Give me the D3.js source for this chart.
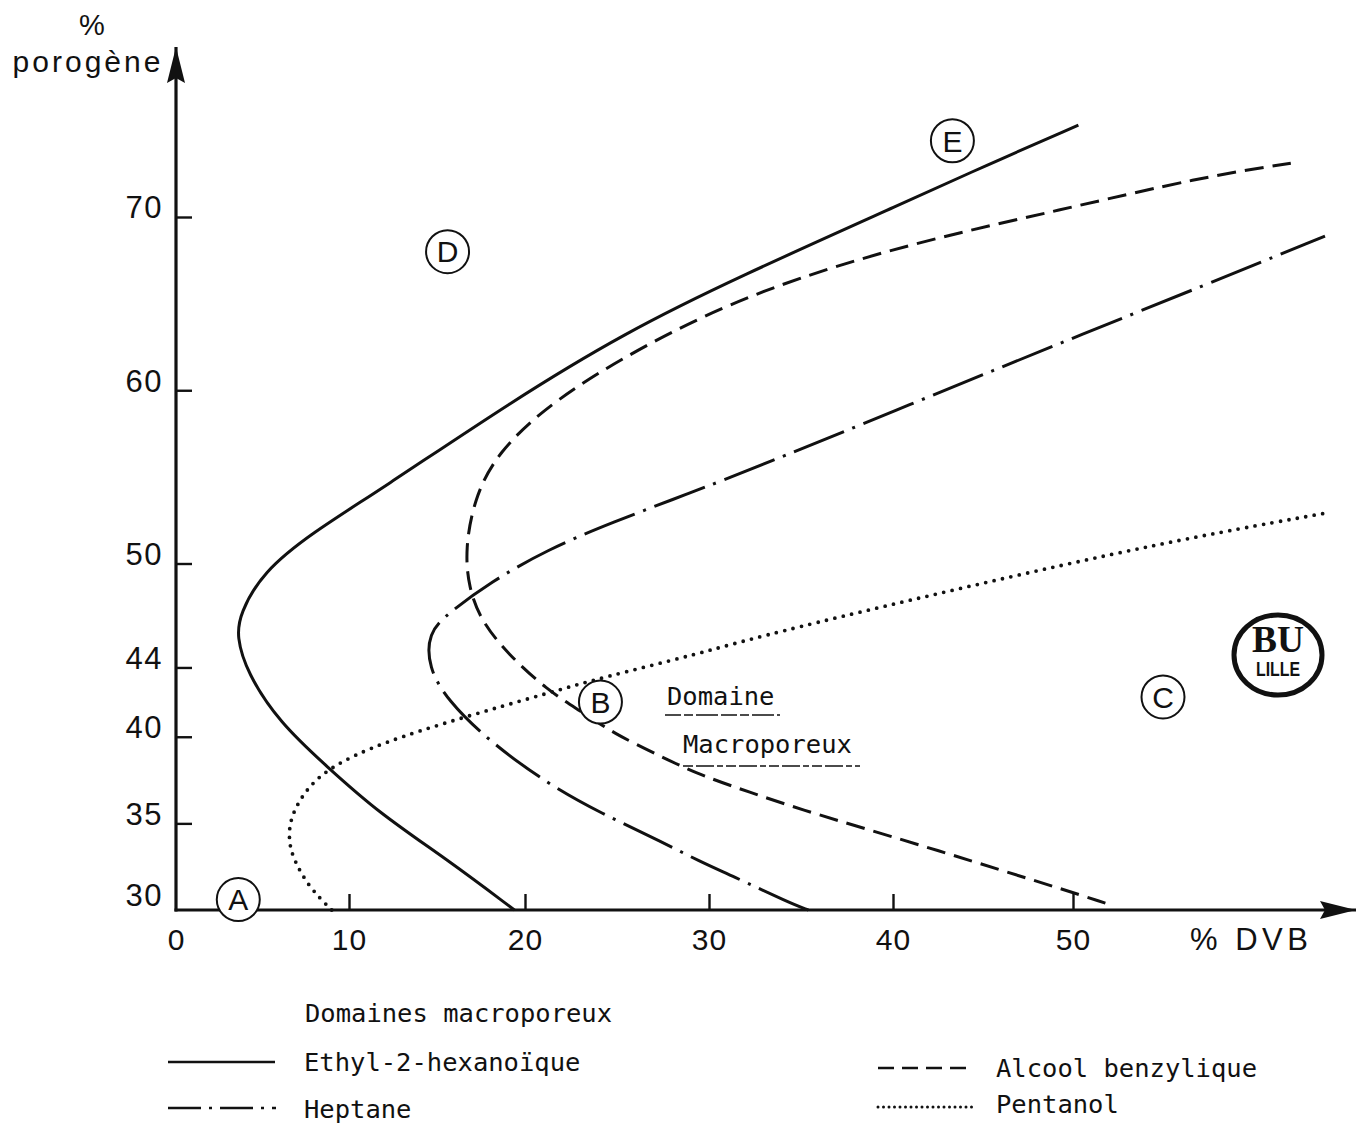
<!DOCTYPE html>
<html>
<head>
<meta charset="utf-8">
<script src="https://cdn.jsdelivr.net/npm/d3@7"></script>
<style>
  html, body { margin: 0; padding: 0; background: #fff; }
  svg { display: block; }
</style>
</head>
<body>
<svg id="chart" width="1364" height="1127"></svg>
<script>
// Axis ticks
const xTicks = [0, 10, 20, 30, 40, 50];
const yTicks = [30, 35, 40, 44, 50, 60, 70];

// Limits of the macroporous domains (% DVB, % porogène)
const ethylX = [19.4, 15.6, 11.7, 8.7, 6.0, 4.1, 3.5, 3.7, 5.0, 7.9, 11.7, 19.3, 25.4, 31.5, 41.0, 45.0, 50.3];
const ethylY = [30.0, 32.9, 35.6, 38.3, 40.8, 43.7, 45.8, 47.1, 49.5, 51.8, 54.2, 59.4, 63.3, 66.5, 71.0, 72.9, 75.3];

const heptaneX = [35.4, 34.4, 31.2, 29.5, 27.5, 24.1, 21.2, 17.9, 15.6, 14.5, 14.5, 15.6, 18.0, 21.2, 24.8, 28.8, 32.7, 41.0, 49.0, 57.4, 64.0];
const heptaneY = [30.0, 30.4, 32.0, 32.8, 33.9, 35.6, 37.3, 39.8, 42.1, 44.0, 46.0, 47.1, 48.9, 50.8, 52.4, 54.0, 55.6, 59.2, 62.6, 66.1, 68.9];

const alcoolX = [51.8, 49.1, 46.0, 42.6, 38.8, 35.0, 32.2, 29.5, 27.5, 24.8, 23.0, 21.2, 19.0, 17.5, 16.8, 16.6, 17.1, 18.4, 21.5, 26.6, 32.7, 41.0, 49.3, 57.1, 62.1];
const alcoolY = [30.4, 31.3, 32.3, 33.4, 34.6, 35.8, 36.8, 37.8, 38.8, 40.2, 41.5, 42.7, 44.8, 46.7, 48.6, 50.8, 53.7, 56.4, 59.4, 62.7, 65.8, 68.5, 70.4, 72.3, 73.1];

const pentanolX = [9.0, 7.7, 6.8, 6.5, 6.6, 7.6, 9.0, 11.7, 16.4, 21.2, 24.1, 29.5, 32.7, 43.8, 54.9, 64.0];
const pentanolY = [30.0, 31.3, 32.9, 34.0, 35.4, 37.1, 38.3, 39.6, 41.1, 42.5, 43.4, 44.8, 45.8, 48.6, 51.2, 52.9];

// Circled domain letters
const regionNames = ["A", "B", "C", "D", "E"];
const regionX = [3.6, 24.1, 55.0, 15.6, 43.3];
const regionY = [30.6, 42.0, 42.3, 68.0, 74.4];

const seriesNames = ["Ethyl-2-hexanoïque", "Heptane", "Alcool benzylique", "Pentanol"];

// ---------------------------------------------------------------------------
const svg = d3.select("#chart");
const INK = "#111";
const SANS = "'Liberation Sans', Arial, Helvetica, sans-serif";
const MONO = "'DejaVu Sans Mono', 'Liberation Mono', monospace";

// The hand-drawn DVB axis is not perfectly even: tick spacing follows the drawing
const xRange = [176, 349, 525, 709, 893, 1073];
const x = d3.scaleLinear().domain(xTicks).range(xRange);
const y = d3.scaleLinear().domain([30, 70]).range([910, 217]);

const defs = svg.append("defs");
defs.append("marker")
  .attr("id", "arrow")
  .attr("viewBox", "0 0 36 18")
  .attr("refX", 36).attr("refY", 9)
  .attr("markerWidth", 36).attr("markerHeight", 18)
  .attr("markerUnits", "userSpaceOnUse")
  .attr("orient", "auto")
  .append("path").attr("d", "M0,0 L36,9 L0,18 L5,9 Z").attr("fill", INK);

// Axis lines with arrowheads
svg.append("line")
  .attr("x1", x(0)).attr("y1", y(30) + 1.5)
  .attr("x2", x(0)).attr("y2", 47)
  .attr("stroke", INK).attr("stroke-width", 3.2)
  .attr("marker-end", "url(#arrow)");
svg.append("line")
  .attr("x1", x(0) - 1.5).attr("y1", y(30))
  .attr("x2", 1356).attr("y2", y(30))
  .attr("stroke", INK).attr("stroke-width", 3.2)
  .attr("marker-end", "url(#arrow)");

// Bottom axis: inward ticks, labels below
const gx = svg.append("g")
  .attr("transform", `translate(0,${y(30)})`)
  .call(d3.axisBottom(x).tickValues(xTicks).tickSize(-16).tickSizeOuter(0).tickPadding(19).tickFormat(d3.format("d")));
gx.select(".domain").remove();
gx.selectAll(".tick line").attr("stroke", INK).attr("stroke-width", 2.4)
  .filter(d => d === 0).remove();
gx.selectAll(".tick text")
  .attr("fill", INK).attr("font-family", SANS).attr("font-size", 30)
  .attr("letter-spacing", 1);

// Left axis: inward ticks, labels to the left, raised above the tick
const gy = svg.append("g")
  .attr("transform", `translate(${x(0)},0)`)
  .call(d3.axisLeft(y).tickValues(yTicks).tickSize(-16).tickSizeOuter(0).tickPadding(13).tickFormat(d3.format("d")));
gy.select(".domain").remove();
gy.selectAll(".tick line").attr("stroke", INK).attr("stroke-width", 2.4)
  .filter(d => d === 30).remove();
gy.selectAll(".tick text")
  .attr("fill", INK).attr("font-family", SANS).attr("font-size", 31)
  .attr("letter-spacing", 1.5)
  .attr("y", d => d === 30 ? -14 : -9);

// Axis titles
svg.append("text").attr("x", 92).attr("y", 35).attr("text-anchor", "middle")
  .attr("font-family", SANS).attr("font-size", 29).attr("fill", INK).text("%");
svg.append("text").attr("x", 88).attr("y", 72).attr("text-anchor", "middle")
  .attr("font-family", SANS).attr("font-size", 30).attr("letter-spacing", 3).attr("fill", INK).text("porogène");
svg.append("text").attr("x", 1190).attr("y", 950)
  .attr("font-family", SANS).attr("font-size", 31).attr("letter-spacing", 4.5).attr("fill", INK).text("% DVB");

// Curves
const series = [
  { name: seriesNames[0], xs: ethylX,    ys: ethylY,    dash: null,        width: 3,   cap: "butt" },
  { name: seriesNames[1], xs: heptaneX,  ys: heptaneY,  dash: "54 9 3 9",  width: 3,   cap: "butt" },
  { name: seriesNames[2], xs: alcoolX,   ys: alcoolY,   dash: "19 9",      width: 3,   cap: "butt" },
  { name: seriesNames[3], xs: pentanolX, ys: pentanolY, dash: "0 8.6",     width: 3.8, cap: "round" }
];

const line = d3.line()
  .x(d => x(d[0]))
  .y(d => y(d[1]))
  .curve(d3.curveBasis);

svg.append("g").selectAll("path")
  .data(series)
  .join("path")
  .attr("d", s => line(s.xs.map((v, i) => [v, s.ys[i]])))
  .attr("fill", "none")
  .attr("stroke", INK)
  .attr("stroke-width", s => s.width)
  .attr("stroke-linecap", s => s.cap)
  .attr("stroke-dasharray", s => s.dash);

// Circled domain letters
const regions = svg.append("g").selectAll("g")
  .data(regionNames.map((n, i) => ({ n, cx: regionX[i], cy: regionY[i] })))
  .join("g")
  .attr("transform", d => `translate(${x(d.cx)},${y(d.cy)})`);
regions.append("circle").attr("r", 21.5).attr("fill", "#fff")
  .attr("stroke", INK).attr("stroke-width", 2);
regions.append("text").attr("text-anchor", "middle").attr("dy", "0.36em")
  .attr("font-family", SANS).attr("font-size", 30).attr("fill", INK)
  .text(d => d.n);

// "Domaine Macroporeux" label with broken underlines
const dm = svg.append("g").attr("font-family", MONO).attr("font-size", 25.5).attr("fill", INK);
dm.append("text").attr("x", 667).attr("y", 705).text("Domaine");
dm.append("text").attr("x", 683).attr("y", 753).text("Macroporeux");
dm.append("line").attr("x1", 665).attr("x2", 780).attr("y1", 715).attr("y2", 715)
  .attr("stroke", INK).attr("stroke-width", 1.6).attr("stroke-dasharray", "16 3 9 3 22 3");
dm.append("line").attr("x1", 683).attr("x2", 860).attr("y1", 766).attr("y2", 766)
  .attr("stroke", INK).attr("stroke-width", 1.4).attr("stroke-dasharray", "10 3 18 3 6 3");

// Library stamp
const stamp = svg.append("g").attr("transform", "translate(1278,655)");
stamp.append("ellipse").attr("rx", 44).attr("ry", 40).attr("fill", "none")
  .attr("stroke", INK).attr("stroke-width", 5);
stamp.append("text").attr("text-anchor", "middle").attr("y", -3)
  .attr("font-family", "'Liberation Serif', 'Times New Roman', serif")
  .attr("font-weight", "bold").attr("font-size", 38).attr("fill", INK)
  .attr("textLength", 52).attr("lengthAdjust", "spacingAndGlyphs").text("BU");
stamp.append("text").attr("text-anchor", "middle").attr("y", 21)
  .attr("font-family", "'Liberation Sans Narrow', 'Liberation Sans', sans-serif")
  .attr("font-weight", "bold").attr("font-size", 20).attr("fill", INK)
  .attr("textLength", 44).attr("lengthAdjust", "spacingAndGlyphs").text("LILLE");

// Legend
const legend = svg.append("g").attr("font-family", MONO).attr("font-size", 25.5).attr("fill", INK);
legend.append("text").attr("x", 305).attr("y", 1022).text("Domaines macroporeux");

const legendItems = [
  { name: seriesNames[0], x1: 168, x2: 275, ly: 1062, tx: 304, ty: 1071, dash: null,       width: 2.4, cap: "butt" },
  { name: seriesNames[1], x1: 168, x2: 276, ly: 1108, tx: 304, ty: 1118, dash: "33 8 3 8", width: 2.4, cap: "butt" },
  { name: seriesNames[2], x1: 878, x2: 974, ly: 1068, tx: 996, ty: 1077, dash: "16 8",     width: 2.4, cap: "butt" },
  { name: seriesNames[3], x1: 878, x2: 975, ly: 1107, tx: 996, ty: 1113, dash: "0 5.5",    width: 3,   cap: "round" }
];
const li = legend.selectAll("g.item").data(legendItems).join("g").attr("class", "item");
li.append("line")
  .attr("x1", d => d.x1).attr("x2", d => d.x2)
  .attr("y1", d => d.ly).attr("y2", d => d.ly)
  .attr("stroke", INK).attr("stroke-width", d => d.width)
  .attr("stroke-linecap", d => d.cap)
  .attr("stroke-dasharray", d => d.dash);
li.append("text").attr("x", d => d.tx).attr("y", d => d.ty).text(d => d.name);
</script>
</body>
</html>
